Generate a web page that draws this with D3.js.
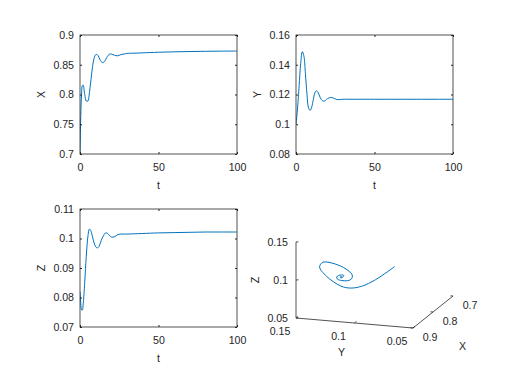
<!DOCTYPE html>
<html lang="en">
<head>
    <meta charset="UTF-8">
    <script src="https://d3js.org/d3.v7.min.js"></script>
    <title>X, Y, Z time series and phase portrait</title>
    <style>
        html, body {
            margin: 0px;
            padding: 0px;
            background-color: #ffffff;
        }
        svg text {
            font-family: "Liberation Sans", Arial, sans-serif;
            font-size: 10.6px;
            fill: #262626;
        }
    </style>
</head>
<body>
    <svg id="chart" width="528" height="371"></svg>
    <script>

        let t_values = [0, 0.5, 1, 1.5, 2, 3, 4, 5, 6, 7, 8, 9, 10, 11, 12, 13, 14, 15, 16, 17, 18, 19, 20, 22, 24, 26, 28, 30, 35, 40, 50, 60, 70, 80, 90, 100];
        let x_values = [0.700, 0.765, 0.800, 0.815, 0.816, 0.800, 0.789, 0.789, 0.803, 0.825, 0.847, 0.861, 0.867, 0.867, 0.863, 0.857, 0.854, 0.854, 0.857, 0.862, 0.866, 0.868, 0.868, 0.866, 0.865, 0.867, 0.868, 0.869, 0.8695, 0.870, 0.871, 0.8717, 0.8722, 0.8726, 0.8729, 0.873];
        let y_values = [0.100, 0.105, 0.111, 0.118, 0.126, 0.141, 0.1488, 0.146, 0.134, 0.120, 0.111, 0.1093, 0.1115, 0.1165, 0.121, 0.1225, 0.1215, 0.119, 0.1168, 0.1157, 0.1156, 0.1163, 0.1172, 0.118, 0.1175, 0.1166, 0.1166, 0.1168, 0.1168, 0.1168, 0.1168, 0.1168, 0.1168, 0.1168, 0.1168, 0.1168];
        let z_values = [0.082, 0.078, 0.0758, 0.0757, 0.0775, 0.085, 0.094, 0.1005, 0.1032, 0.1025, 0.1005, 0.0985, 0.0972, 0.0968, 0.0972, 0.0985, 0.1000, 0.1010, 0.1018, 0.1019, 0.1015, 0.1009, 0.1005, 0.1006, 0.1013, 0.1015, 0.1015, 0.1015, 0.1016, 0.1017, 0.1019, 0.1020, 0.1021, 0.1022, 0.1022, 0.1022];

        let t_ticks = [0, 50, 100];
        let x_ticks = [0.7, 0.75, 0.8, 0.85, 0.9];
        let y_ticks = [0.08, 0.1, 0.12, 0.14, 0.16];
        let z_ticks = [0.07, 0.08, 0.09, 0.1, 0.11];

        let phase_x_ticks = [0.7, 0.8, 0.9];
        let phase_y_ticks = [0.15, 0.1, 0.05];
        let phase_z_ticks = [0.05, 0.1, 0.15];

        let line_colour = '#0072BD';
        let axis_colour = '#262626';

        let svg = d3.select('#chart');
        let defs = svg.append('defs');

        function draw_panel(id, box, y_domain, ticks, values, label) {
            let x = d3.scaleLinear().domain([0, 100]).range([box.left, box.right]);
            let y = d3.scaleLinear().domain(y_domain).range([box.bottom, box.top]);

            defs.append('clipPath').attr('id', 'clip_' + id)
                .append('rect')
                .attr('x', box.left).attr('y', box.top)
                .attr('width', box.right - box.left).attr('height', box.bottom - box.top);

            let g = svg.append('g').style('color', axis_colour);

            g.append('path')
                .datum(d3.zip(t_values, values))
                .attr('clip-path', 'url(#clip_' + id + ')')
                .attr('fill', 'none')
                .attr('stroke', line_colour)
                .attr('stroke-width', 1)
                .attr('d', d3.line().x(d => x(d[0])).y(d => y(d[1])).curve(d3.curveCatmullRom));

            g.append('g').attr('transform', `translate(0,${box.bottom})`)
                .call(d3.axisBottom(x).tickValues(t_ticks).tickSize(-2).tickPadding(9).tickFormat(d => String(d)))
                .call(a => a.select('.domain').remove());
            g.append('g').attr('transform', `translate(0,${box.top})`)
                .call(d3.axisTop(x).tickValues(t_ticks).tickSize(-2).tickFormat(''))
                .call(a => a.select('.domain').remove());
            g.append('g').attr('transform', `translate(${box.left},0)`)
                .call(d3.axisLeft(y).tickValues(ticks).tickSize(-2).tickPadding(6).tickFormat(d => String(d)))
                .call(a => a.select('.domain').remove());
            g.append('g').attr('transform', `translate(${box.right},0)`)
                .call(d3.axisRight(y).tickValues(ticks).tickSize(-2).tickFormat(''))
                .call(a => a.select('.domain').remove());

            g.append('rect')
                .attr('x', box.left).attr('y', box.top)
                .attr('width', box.right - box.left).attr('height', box.bottom - box.top)
                .attr('fill', 'none')
                .attr('stroke', axis_colour)
                .attr('stroke-width', 0.8);

            g.append('text')
                .attr('x', (box.left + box.right) / 2)
                .attr('y', box.bottom + 34.5)
                .attr('text-anchor', 'middle')
                .text('t');
            g.append('text')
                .attr('transform', `translate(${box.left - 35},${(box.top + box.bottom) / 2}) rotate(-90)`)
                .attr('text-anchor', 'middle')
                .text(label);
        }

        draw_panel('x', { left: 80, right: 237, top: 35, bottom: 154 }, [0.7, 0.9], x_ticks, x_values, 'X');
        draw_panel('y', { left: 296, right: 453, top: 35, bottom: 154 }, [0.08, 0.16], y_ticks, y_values, 'Y');
        draw_panel('z', { left: 80, right: 237, top: 209, bottom: 327 }, [0.07, 0.11], z_ticks, z_values, 'Z');

        // 3-D phase portrait, orthographic projection onto the page
        let origin = [296, 318];
        let vec_x = [40, -32];
        let vec_y = [117, 10];
        let vec_z = [0, -76];
        let frac_x = d3.scaleLinear().domain([0.9, 0.7]).range([0, 1]);
        let frac_y = d3.scaleLinear().domain([0.15, 0.05]).range([0, 1]);
        let frac_z = d3.scaleLinear().domain([0.05, 0.15]).range([0, 1]);

        function project(X, Y, Z) {
            let a = frac_x(X), b = frac_y(Y), c = frac_z(Z);
            return [origin[0] + a * vec_x[0] + b * vec_y[0] + c * vec_z[0],
                    origin[1] + a * vec_x[1] + b * vec_y[1] + c * vec_z[1]];
        }

        let g3 = svg.append('g');

        let axis_line = d3.line();
        g3.append('path')
            .attr('d', axis_line([project(0.9, 0.15, 0.15), project(0.9, 0.15, 0.05), project(0.9, 0.05, 0.05), project(0.7, 0.05, 0.05)]))
            .attr('fill', 'none')
            .attr('stroke', axis_colour)
            .attr('stroke-width', 0.8);

        // ticks
        phase_z_ticks.forEach(v => {
            let p = project(0.9, 0.15, v);
            g3.append('line').attr('x1', p[0]).attr('y1', p[1]).attr('x2', p[0] + 2.5).attr('y2', p[1] - 0.2)
                .attr('stroke', axis_colour).attr('stroke-width', 0.8);
            g3.append('text').attr('x', p[0] - 8).attr('y', p[1]).attr('dy', '0.35em')
                .attr('text-anchor', 'end').text(String(v));
        });
        phase_y_ticks.forEach(v => {
            let p = project(0.9, v, 0.05);
            g3.append('line').attr('x1', p[0]).attr('y1', p[1]).attr('x2', p[0] + 2).attr('y2', p[1] - 1.6)
                .attr('stroke', axis_colour).attr('stroke-width', 0.8);
            g3.append('text').attr('x', p[0] - 16).attr('y', p[1] + 13.7).attr('dy', '0.35em')
                .attr('text-anchor', 'middle').text(String(v));
        });
        phase_x_ticks.forEach(v => {
            let p = project(v, 0.05, 0.05);
            g3.append('line').attr('x1', p[0]).attr('y1', p[1]).attr('x2', p[0] - 2.5).attr('y2', p[1] - 0.2)
                .attr('stroke', axis_colour).attr('stroke-width', 0.8);
            g3.append('text').attr('x', p[0] + 17).attr('y', p[1] + 8.8).attr('dy', '0.35em')
                .attr('text-anchor', 'middle').text(String(v));
        });

        g3.append('text').attr('x', 341.5).attr('y', 352).attr('dy', '0.35em').attr('text-anchor', 'middle').text('Y');
        g3.append('text').attr('x', 462.5).attr('y', 346).attr('dy', '0.35em').attr('text-anchor', 'middle').text('X');
        g3.append('text').attr('transform', 'translate(259,280) rotate(-90)').attr('text-anchor', 'middle').text('Z');

        let trajectory = t_values.map((t, i) => project(x_values[i], y_values[i], z_values[i]));
        g3.append('path')
            .attr('d', d3.line().curve(d3.curveCatmullRom)(trajectory))
            .attr('fill', 'none')
            .attr('stroke', line_colour)
            .attr('stroke-width', 1);

    </script>
</body>
</html>
